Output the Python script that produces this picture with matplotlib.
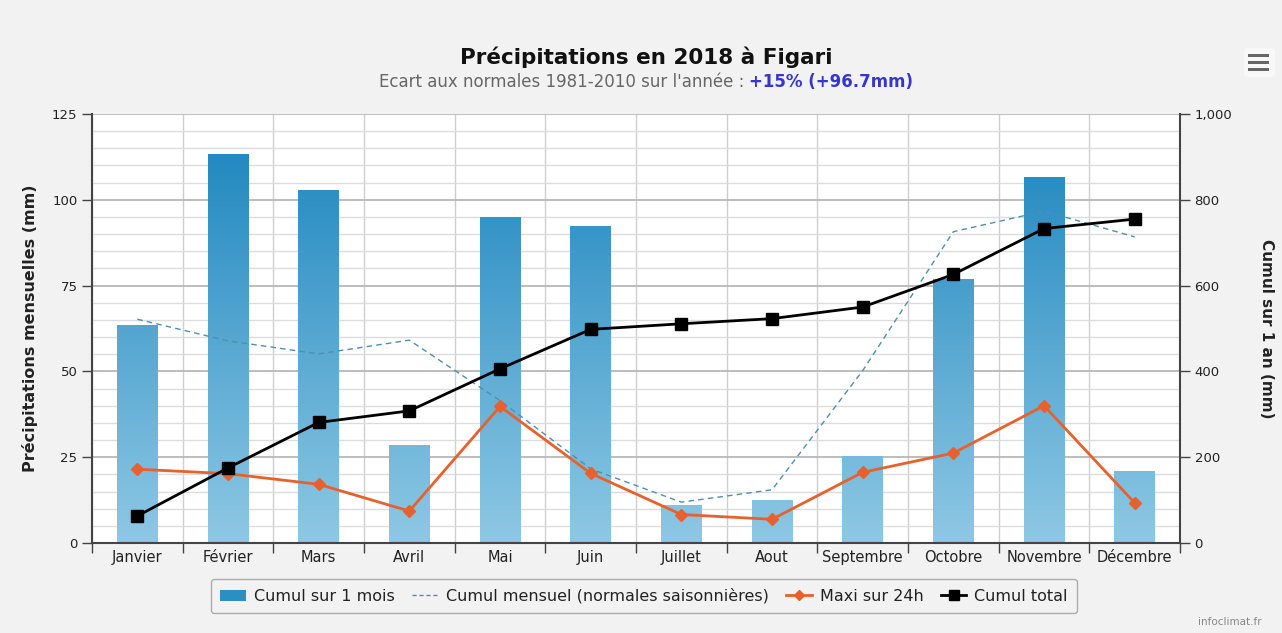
import numpy as np
import matplotlib
matplotlib.use("Agg")
import matplotlib.pyplot as plt
from matplotlib.lines import Line2D
from matplotlib.patches import Patch, FancyBboxPatch, Rectangle
from matplotlib.colors import LinearSegmentedColormap
from matplotlib.ticker import FuncFormatter, MultipleLocator

# ---- data ----
mois = ["Janvier", "Février", "Mars", "Avril", "Mai", "Juin", "Juillet",
        "Aout", "Septembre", "Octobre", "Novembre", "Décembre"]
cumul_mois = [63.6, 113.2, 103.0, 28.7, 95.1, 92.3, 11.0, 12.6, 25.4, 76.9, 106.6, 20.9]
normales = [65.2, 58.9, 55.1, 59.1, 41.5, 21.6, 11.9, 15.5, 50.2, 90.7, 96.7, 89.2]
maxi_24h = [21.5, 20.2, 17.1, 9.3, 39.8, 20.3, 8.3, 6.9, 20.6, 26.2, 40.0, 11.7]
cumul_total = [63, 175, 281, 308, 406, 498, 511, 523, 550, 626, 733, 755]
left_ticks = [0, 25, 50, 75, 100, 125]
right_ticks = [0, 200, 400, 600, 800, 1000]

plt.rcParams['font.family'] = ['DejaVu Sans']

W, H = 1282, 633
fig = plt.figure(figsize=(W / 100, H / 100), dpi=100, facecolor="#f2f2f2")

L, R, T, B = 92, 1180, 114, 543
ax = fig.add_axes([L / W, 1 - B / H, (R - L) / W, (B - T) / H])
ax.set_facecolor("white")
x = np.arange(len(mois))

ax.set_xlim(-0.5, len(mois) - 0.5)
ax.set_ylim(0, 125)

# grid
ax.yaxis.set_major_locator(MultipleLocator(25))
ax.yaxis.set_minor_locator(MultipleLocator(5))
ax.set_yticks(left_ticks)
ax.grid(which="major", axis="y", color="#b8b8b8", lw=1.3, zorder=0)
ax.grid(which="minor", axis="y", color="#dcdcdc", lw=1.0, zorder=0)
ax.set_xticks(np.arange(-0.5, len(mois), 1.0))
ax.set_xticklabels([])
ax.set_xticks(x, minor=True)
ax.set_xticklabels(mois, minor=True, fontsize=10.5, color="#222222")
ax.grid(which="major", axis="x", color="#cfcfcf", lw=1.0, zorder=0)
ax.set_axisbelow(True)
ax.tick_params(axis="x", which="major", length=7, width=1, color="#444444", direction="out")
ax.tick_params(axis="x", which="minor", length=0, pad=5)
ax.tick_params(axis="y", which="major", length=7, width=1, color="#444444", labelsize=9.5, labelcolor="#222222")
ax.tick_params(axis="y", which="minor", length=0)

for s in ["top", "right"]:
    ax.spines[s].set_visible(False)
ax.spines["left"].set_color("#444444")
ax.spines["left"].set_linewidth(1.5)
ax.spines["bottom"].set_color("#444444")
ax.spines["bottom"].set_linewidth(1.5)

# bars with vertical gradient
bars = ax.bar(x, cumul_mois, width=0.45, color="none", edgecolor="none", zorder=2)
cmap = LinearSegmentedColormap.from_list("blu", ["#8ec8e4", "#1883bd"])
grad = np.linspace(0, 1, 256).reshape(-1, 1)
for b in bars:
    im = ax.imshow(grad, cmap=cmap, origin="lower", aspect="auto",
                   extent=[b.get_x(), b.get_x() + b.get_width(), 0, 125], zorder=2)
    im.set_clip_path(b)
ax.set_xlim(-0.5, len(mois) - 0.5)
ax.set_ylim(0, 125)

# normals dashed
ax.plot(x, normales, ls=(0, (4, 3)), lw=1.0, color="#4f8fb0", zorder=3)
# maxi 24h
ax.plot(x, maxi_24h, color="#e8612c", lw=2.0, marker="D", ms=6, zorder=4)

ax.set_ylabel("Précipitations mensuelles (mm)", fontsize=11.5, fontweight="bold",
              color="#222222", labelpad=10)

# right axis
ax2 = ax.twinx()
ax2.set_ylim(0, 1000)
ax2.set_yticks(right_ticks)
ax2.yaxis.set_major_formatter(FuncFormatter(lambda v, p: f"{int(v):,}"))
ax2.plot(x, cumul_total, color="black", lw=2.0, marker="s", ms=8, zorder=5)
ax2.tick_params(axis="y", length=7, width=1, color="#444444", labelsize=9.5, labelcolor="#222222")
for s in ["top", "left", "bottom"]:
    ax2.spines[s].set_visible(False)
ax2.spines["right"].set_color("#444444")
ax2.spines["right"].set_linewidth(1.5)
ax2.set_ylabel("Cumul sur 1 an (mm)", fontsize=11, fontweight="bold",
               color="#222222", rotation=270, labelpad=30)

# titles
cx = 646 / W
fig.text(cx, 1 - 57 / H, "Précipitations en 2018 à Figari", ha="center", va="center",
         fontsize=15.5, fontweight="bold", color="#111111")
t1 = fig.text(0, 1 - 82 / H, "Ecart aux normales 1981-2010 sur l'année : ", ha="left",
              va="center", fontsize=12, color="#666666")
t2 = fig.text(0, 1 - 82 / H, "+15% (+96.7mm)", ha="left", va="center",
              fontsize=12, fontweight="bold", color="#3535d0")
fig.canvas.draw()
r = fig.canvas.get_renderer()
w1 = t1.get_window_extent(r).width
w2 = t2.get_window_extent(r).width
start = cx * W - (w1 + w2) / 2
t1.set_x(start / W)
t2.set_x((start + w1) / W)

# legend
handles = [
    Patch(facecolor="#2b8fc4", edgecolor="none"),
    Line2D([], [], ls=(0, (3, 2)), lw=1.0, color="#4f8fb0"),
    Line2D([], [], color="#e8612c", lw=2, marker="D", ms=5),
    Line2D([], [], color="black", lw=2, marker="s", ms=7),
]
labels = ["Cumul sur 1 mois", "Cumul mensuel (normales saisonnières)", "Maxi sur 24h", "Cumul total"]
leg = fig.legend(handles, labels, loc="center", bbox_to_anchor=(644 / W, 1 - 596 / H),
                 ncol=4, fontsize=11.5, frameon=True, handlelength=1.6, handletextpad=0.5,
                 columnspacing=1.1, borderpad=0.6, fancybox=True)
leg.get_frame().set_edgecolor("#999999")
leg.get_frame().set_facecolor("#f2f2f2")
leg.get_frame().set_linewidth(1.0)
for t in leg.get_texts():
    t.set_color("#222222")

# credit
fig.text(1262 / W, 1 - 622 / H, "infoclimat.fr", ha="right", va="center", fontsize=7.5, color="#888888")

# menu icon
fig.patches.append(FancyBboxPatch((1244 / W, 1 - 77 / H), 31 / W, 29 / H,
                                  boxstyle="round,pad=0,rounding_size=0.004",
                                  transform=fig.transFigure, facecolor="#f8f8f8",
                                  edgecolor="none"))
for i in range(3):
    fig.patches.append(Rectangle((1248 / W, 1 - (57 + i * 7) / H), 21 / W, 3.5 / H,
                                 transform=fig.transFigure, facecolor="#666666", edgecolor="none"))

fig.savefig("out.png", dpi=100, facecolor=fig.get_facecolor())
